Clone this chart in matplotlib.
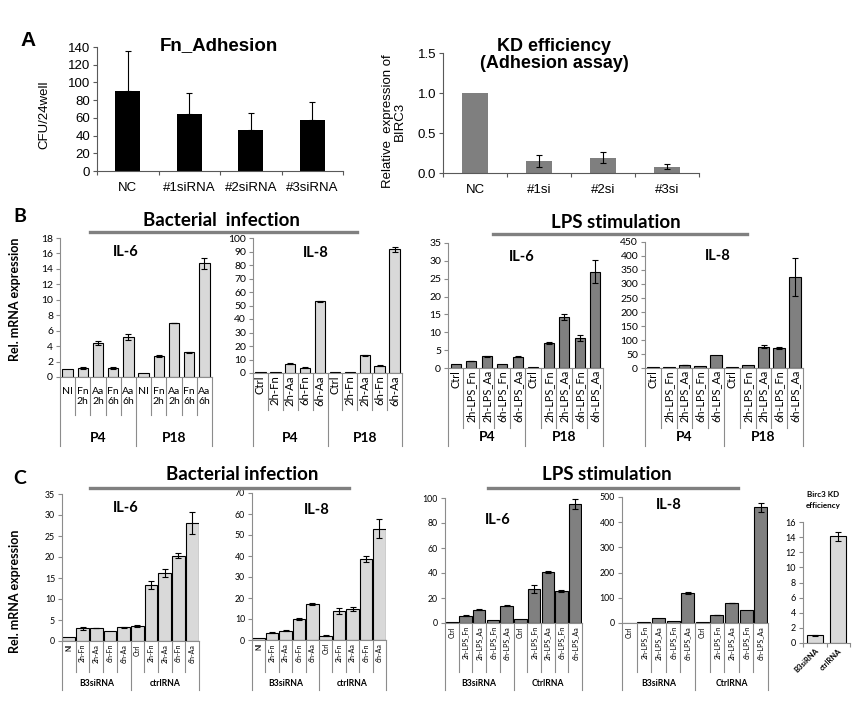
import matplotlib
matplotlib.use("Agg")
import matplotlib.pyplot as plt
import matplotlib.transforms as mtransforms
import numpy as np

W, H = 865, 705
SANS = ["Lato", "DejaVu Sans"]
ARIAL = ["Liberation Sans", "DejaVu Sans"]
GRID = "#8c8c8c"
LIGHT = "#d9d9d9"
DARK = "#808080"

# --------------------------------------------------------------------------- #
# data
# --------------------------------------------------------------------------- #
adh_cats = ["NC", "#1siRNA", "#2siRNA", "#3siRNA"]
adh_vals = [90, 64, 46, 58]
adh_err = [46, 24, 20, 20]

kd_cats = ["NC", "#1si", "#2si", "#3si"]
kd_vals = [1.0, 0.15, 0.19, 0.08]
kd_err = [0.0, 0.07, 0.07, 0.03]

b_groups = ["P4", "P18"]
b_inf6_labels = ["NI", "Fn\n2h", "Aa\n2h", "Fn\n6h", "Aa\n6h"] * 2
b_inf6_vals = [1.0, 1.2, 4.4, 1.2, 5.2, 0.5, 2.7, 7.0, 3.2, 14.7]
b_inf6_err = [0.0, 0.1, 0.3, 0.1, 0.35, 0.0, 0.1, 0.05, 0.05, 0.7]

b_inf8_labels = ["Ctrl", "2h-Fn", "2h-Aa", "6h-Fn", "6h-Aa"] * 2
b_inf8_vals = [1.0, 1.0, 7.0, 4.0, 53.0, 0.5, 0.5, 13.0, 5.5, 91.5]
b_inf8_err = [0.0, 0.0, 0.2, 0.1, 0.6, 0.0, 0.0, 0.2, 0.4, 2.0]

b_lps_labels = ["Ctrl", "2h-LPS_Fn", "2h-LPS_Aa", "6h-LPS_Fn", "6h-LPS_Aa"] * 2
b_lps6_vals = [1.0, 2.0, 3.3, 1.2, 3.2, 0.2, 7.0, 14.3, 8.4, 27.0]
b_lps6_err = [0.0, 0.1, 0.1, 0.0, 0.15, 0.0, 0.3, 0.8, 0.8, 3.3]
b_lps8_vals = [3, 2, 10, 6, 46, 3, 10, 76, 72, 325]
b_lps8_err = [0, 0, 1, 0, 0, 0, 0, 5, 3, 67]

c_groups_inf = ["B3siRNA", "ctrlRNA"]
c_groups_lps = ["B3siRNA", "CtrlRNA"]
c_inf_labels = ["NI", "2h-Fn", "2h-Aa", "6h-Fn", "6h-Aa",
                "Ctrl", "2h-Fn", "2h-Aa", "6h-Fn", "6h-Aa"]
c_inf6_vals = [1.0, 3.0, 3.1, 2.4, 3.3, 3.6, 13.3, 16.2, 20.3, 28.1]
c_inf6_err = [0.0, 0.3, 0.1, 0.0, 0.15, 0.15, 1.0, 0.9, 0.6, 2.6]
c_inf8_vals = [0.8, 3.5, 4.5, 10.0, 17.0, 2.0, 13.7, 14.7, 38.5, 53.0]
c_inf8_err = [0.0, 0.2, 0.2, 0.4, 0.4, 0.2, 1.5, 1.0, 1.5, 4.5]

c_lps_labels = ["Ctrl", "2h-LPS_Fn", "2h-LPS_Aa", "6h-LPS_Fn", "6h-LPS_Aa"] * 2
c_lps6_vals = [0.5, 5.9, 10.7, 2.4, 13.9, 3.2, 27.2, 40.8, 25.9, 95.2]
c_lps6_err = [0.0, 0.2, 0.5, 0.0, 0.3, 0.0, 3.0, 0.5, 0.7, 4.0]
c_lps8_vals = [1, 2, 20, 8, 119, 2, 32, 79, 52, 460]
c_lps8_err = [0, 0, 0, 0, 4, 0, 1, 1, 0, 18]

kd2_cats = ["B3siRNA", "ctrlRNA"]
kd2_vals = [1.0, 14.1]
kd2_err = [0.1, 0.6]

fig = plt.figure(figsize=(W / 100, H / 100), dpi=100)
fig.patch.set_facecolor("white")


def px(x, y):
    return x / W, 1 - y / H


def add_ax(l, t, r, b):
    return fig.add_axes([l / W, 1 - b / H, (r - l) / W, (b - t) / H])


def style(ax, color, yticks, fmt, fs, family):
    for s in ("top", "right"):
        ax.spines[s].set_visible(False)
    for s in ("left", "bottom"):
        ax.spines[s].set_color(color)
        ax.spines[s].set_linewidth(0.8)
    ax.set_ylim(yticks[0], yticks[-1])
    ax.set_yticks(yticks)
    ax.set_yticklabels([fmt.format(v) for v in yticks], fontsize=fs, family=family)
    ax.tick_params(axis="y", direction="out", length=3, width=0.8, color=color, pad=2)
    ax.set_facecolor("none")


def bars(ax, vals, err, color, width, edge=True, up_only=False):
    x = np.arange(len(vals))
    e = np.asarray(err, dtype=float)
    ax.bar(x, vals, width=width, color=color,
           edgecolor="black" if edge else "none", linewidth=0.8 if edge else 0)
    m = e > 0
    ax.errorbar(x[m], np.asarray(vals, float)[m],
                yerr=[np.zeros(m.sum()), e[m]] if up_only else e[m],
                fmt="none", ecolor="black", elinewidth=0.8, capsize=2.2, capthick=0.8)
    ax.set_xlim(-0.5, len(vals) - 0.5)
    ax.set_xticks([])


def cat_axis(ax, labels, groups, y_lab, y_short, y_long, y_grp, rot, fs, gfs, per=5):
    tr = mtransforms.blended_transform_factory(ax.transData, fig.transFigure)
    y_axis = ax.get_position().y0
    n = len(labels)
    for i in range(n + 1):
        yb = y_long if i % per == 0 else y_short
        ax.plot([i - 0.5, i - 0.5], [y_axis, 1 - yb / H], transform=tr,
                color=GRID, lw=0.8, clip_on=False)
    for i, lab in enumerate(labels):
        ax.text(i, 1 - y_lab / H, lab, transform=tr, rotation=rot, ha="center",
                va="top", fontsize=fs, family=SANS, linespacing=1.2)
    for g, name in enumerate(groups):
        ax.text(g * per + (per - 1) / 2, 1 - y_grp / H, name, transform=tr,
                ha="center", va="center", fontsize=gfs, fontweight="bold", family=SANS)


def header(text, xc, yc, x0, x1, yl):
    fig.text(*px(xc, yc), text, ha="center", va="center", fontsize=13.5,
             fontweight="bold", family=SANS)
    fig.add_artist(plt.Line2D([x0 / W, x1 / W], [1 - yl / H, 1 - yl / H],
                              color=DARK, lw=2.4))


def label(text, x, y, fs=10.5):
    fig.text(*px(x, y), text, ha="center", va="center", fontsize=fs,
             fontweight="bold", family=SANS)


# --------------------------------------------------------------------------- #
# A
# --------------------------------------------------------------------------- #
fig.text(*px(28, 40), "A", ha="center", va="center", fontsize=15,
         fontweight="bold", family=ARIAL)

ax = add_ax(97, 47, 343, 171)
bars(ax, adh_vals, adh_err, "black", 0.4, edge=False, up_only=True)
style(ax, "#595959", list(range(0, 141, 20)), "{:d}", 9.5, ARIAL)
ax.set_xticks(range(len(adh_cats)))
ax.set_xticklabels(adh_cats, fontsize=9.5, family=ARIAL)
ax.set_xticks(np.arange(-0.5, len(adh_cats)), minor=True)
ax.tick_params(axis="x", which="major", length=0, pad=8)
ax.tick_params(axis="x", which="minor", length=3, width=0.8, color="#595959")
fig.text(*px(219, 46), "Fn_Adhesion", ha="center", va="center", fontsize=13.5,
         fontweight="bold", family=ARIAL)
fig.text(*px(44, 115), "CFU/24well", rotation=90, ha="center", va="center",
         fontsize=9.5, family=ARIAL)

ax = add_ax(443, 53, 699, 173)
bars(ax, kd_vals, kd_err, "#7f7f7f", 0.4, edge=False)
style(ax, "#595959", [0.0, 0.5, 1.0, 1.5], "{:.1f}", 9.5, ARIAL)
ax.set_xticks(range(len(kd_cats)))
ax.set_xticklabels(kd_cats, fontsize=9.5, family=ARIAL)
ax.set_xticks(np.arange(-0.5, len(kd_cats)), minor=True)
ax.tick_params(axis="x", which="major", length=0, pad=8)
ax.tick_params(axis="x", which="minor", length=3, width=0.8, color="#595959")
fig.text(*px(554, 55), "KD efficiency\n(Adhesion assay)", ha="center",
         va="center", fontsize=13, fontweight="bold", family=ARIAL, linespacing=1.05)
fig.text(*px(394, 121), "Relative  expression of\nBIRC3", rotation=90,
         ha="center", va="center", fontsize=9.5, family=ARIAL, linespacing=1.0)

# --------------------------------------------------------------------------- #
# B
# --------------------------------------------------------------------------- #
fig.text(*px(20, 216), "B", ha="center", va="center", fontsize=14,
         fontweight="bold", family=SANS)
header("Bacterial  infection", 221, 221, 90, 357, 232)
header("LPS stimulation", 616, 223, 493, 747, 234)
fig.text(*px(15, 299), "Rel. mRNA expression", rotation=90, ha="center",
         va="center", fontsize=9, fontweight="bold", family=SANS)

ax = add_ax(60, 238, 212, 377)
bars(ax, b_inf6_vals, b_inf6_err, LIGHT, 0.68)
style(ax, GRID, list(range(0, 19, 2)), "{:d}", 7.5, SANS)
cat_axis(ax, b_inf6_labels, b_groups, 387, 415, 446, 438, 0, 7.5, 10)
label("IL-6", 126, 252)

ax = add_ax(253, 238, 402, 373)
bars(ax, b_inf8_vals, b_inf8_err, LIGHT, 0.7)
style(ax, GRID, list(range(0, 101, 10)), "{:d}", 7.5, SANS)
cat_axis(ax, b_inf8_labels, b_groups, 375, 410, 446, 438, 90, 8.2, 10)
label("IL-8", 316, 253)

ax = add_ax(448, 243, 603, 368)
bars(ax, b_lps6_vals, b_lps6_err, DARK, 0.65)
style(ax, GRID, list(range(0, 36, 5)), "{:d}", 7.5, SANS)
cat_axis(ax, b_lps_labels, b_groups, 370, 428, 446, 437, 90, 7.8, 10)
label("IL-6", 522, 257)

ax = add_ax(645, 242, 803, 368)
bars(ax, b_lps8_vals, b_lps8_err, DARK, 0.75)
style(ax, GRID, list(range(0, 451, 50)), "{:d}", 7.5, SANS)
cat_axis(ax, b_lps_labels, b_groups, 370, 428, 446, 437, 90, 7.8, 10)
label("IL-8", 718, 256)

# --------------------------------------------------------------------------- #
# C
# --------------------------------------------------------------------------- #
fig.text(*px(20, 478), "C", ha="center", va="center", fontsize=14,
         fontweight="bold", family=SANS)
header("Bacterial infection", 242, 475, 90, 349, 488)
header("LPS stimulation", 607, 475, 488, 738, 488)
fig.text(*px(15, 591), "Rel. mRNA expression", rotation=90, ha="center",
         va="center", fontsize=9, fontweight="bold", family=SANS)

ax = add_ax(62, 494, 199, 641)
bars(ax, c_inf6_vals, c_inf6_err, LIGHT, 0.94)
style(ax, GRID, list(range(0, 36, 5)), "{:d}", 6.3, SANS)
cat_axis(ax, c_inf_labels, c_groups_inf, 644, 672, 690, 683, 90, 5.0, 6.2)
label("IL-6", 126, 508)

ax = add_ax(252, 493, 386, 640)
bars(ax, c_inf8_vals, c_inf8_err, LIGHT, 0.94)
style(ax, GRID, list(range(0, 71, 10)), "{:d}", 6.3, SANS)
cat_axis(ax, c_inf_labels, c_groups_inf, 643, 672, 690, 683, 90, 5.0, 6.2)
label("IL-8", 317, 510)

ax = add_ax(445, 498, 582, 623)
bars(ax, c_lps6_vals, c_lps6_err, DARK, 0.9)
style(ax, GRID, list(range(0, 101, 20)), "{:d}", 6.3, SANS)
cat_axis(ax, c_lps_labels, c_groups_lps, 626, 672, 690, 683, 90, 5.0, 6.2)
label("IL-6", 498, 520)

ax = add_ax(622, 497, 768, 623)
bars(ax, c_lps8_vals, c_lps8_err, DARK, 0.88)
style(ax, GRID, list(range(0, 501, 100)), "{:d}", 6.3, SANS)
cat_axis(ax, c_lps_labels, c_groups_lps, 626, 672, 690, 683, 90, 5.0, 6.2)
label("IL-8", 669, 505)

ax = add_ax(803, 522, 850, 643)
bars(ax, kd2_vals, kd2_err, LIGHT, 0.7)
style(ax, GRID, list(range(0, 17, 2)), "{:d}", 6.5, SANS)
ax.set_xticks(np.arange(-0.5, 2), minor=True)
ax.tick_params(axis="x", which="minor", length=3, width=0.8, color=GRID)
ax.set_xticks(range(2))
ax.set_xticklabels(kd2_cats, rotation=45, ha="right", rotation_mode="anchor",
                   fontsize=5.5, fontweight="bold", family=SANS)
ax.tick_params(axis="x", which="major", length=0, pad=3)
fig.text(*px(823, 500), "Birc3 KD\nefficiency", ha="center", va="center",
         fontsize=5.8, fontweight="bold", family=SANS, linespacing=1.6)

fig.savefig("out.png", dpi=100, facecolor="white")
